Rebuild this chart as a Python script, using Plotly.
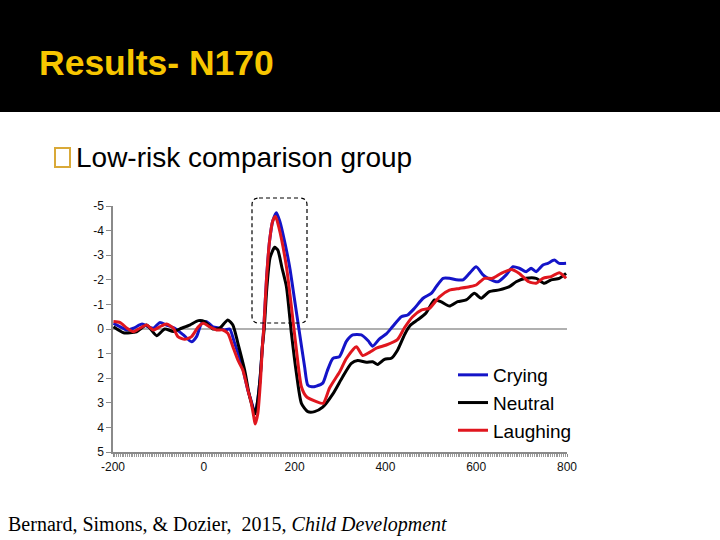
import plotly.graph_objects as go

# ---- data (time in ms, amplitude in microvolts) ----
CRY_T = [-199, -184, -169, -155, -136, -122, -111, -97, -82, -64, -45, -27, -16, -5, 6, 20, 35, 46, 57,
         68, 83, 97, 104, 113, 118, 124, 129, 132, 138, 145, 152, 160, 167, 174, 189, 200, 211, 222, 229,
         238, 248, 262, 272, 284, 299, 314, 328, 347, 362, 372, 387, 402, 416, 435, 449, 464, 483, 501,
         512, 527, 541, 556, 571, 585, 600, 615, 626, 648, 666, 681, 695, 710, 721, 732, 747, 758, 772,
         783, 798]
CRY_V = [-0.23, -0.09, 0.04, -0.03, -0.2, -0.09, -0.03, -0.26, -0.16, -0.03, 0.24, 0.52, 0.31, -0.23,
         -0.3, -0.09, -0.03, 0.04, 0.0, 0.58, 1.4, 2.48, 2.9, 3.43, 3.0, 2.0, 0.72, 0.0, -2.0, -3.6, -4.4,
         -4.73, -4.4, -3.89, -2.53, -1.18, 0.18, 1.53, 2.28, 2.35, 2.32, 2.2, 1.7, 1.2, 1.12, 0.5, 0.24,
         0.24, 0.48, 0.7, 0.4, 0.2, -0.1, -0.5, -0.57, -0.84, -1.25, -1.45, -1.72, -2.06, -2.06, -2.0,
         -2.0, -2.26, -2.53, -2.2, -2.06, -1.92, -2.2, -2.53, -2.47, -2.33, -2.47, -2.33, -2.6, -2.67,
         -2.8, -2.67, -2.67]

NEU_T = [-199, -177, -148, -126, -104, -86, -67, -49, -31, -12, 2, 20, 35, 53, 64, 75, 90, 101, 113, 118,
         124, 129, 133, 139, 146, 156, 163, 172, 182, 193, 204, 215, 229, 244, 262, 284, 306, 325, 339,
         358, 372, 383, 398, 413, 427, 443, 455, 471, 489, 508, 522, 541, 559, 578, 596, 611, 629, 651,
         673, 688, 710, 732, 750, 765, 783, 798]
NEU_V = [-0.09, 0.15, 0.11, -0.16, 0.27, 0.0, 0.1, -0.03, -0.16, -0.34, -0.3, 0.0, -0.04, -0.37, -0.16,
         0.57, 1.67, 2.75, 3.45, 3.0, 2.0, 0.72, 0.0, -1.7, -2.9, -3.32, -3.21, -2.5, -1.72, 0.18, 1.8,
         3.02, 3.36, 3.36, 3.18, 2.65, 1.94, 1.4, 1.28, 1.35, 1.33, 1.44, 1.23, 1.19, 0.85, 0.2, -0.15,
         -0.37, -0.64, -1.18, -1.11, -0.93, -1.11, -1.18, -1.45, -1.25, -1.52, -1.59, -1.72, -1.92, -2.06,
         -2.06, -1.86, -2.0, -2.06, -2.26]

LAU_T = [-199, -184, -169, -155, -141, -126, -111, -97, -82, -67, -57, -42, -27, -12, -1, 13, 28, 42, 53,
         64, 75, 86, 97, 104, 110, 113, 119, 125, 129, 132, 138, 145, 152, 158, 165, 182, 193, 204, 215,
         226, 248, 263, 277, 299, 314, 336, 350, 365, 380, 402, 427, 442, 460, 479, 497, 519, 541, 563,
         585, 600, 618, 636, 655, 677, 695, 716, 732, 747, 765, 783, 798]
LAU_V = [-0.3, -0.26, -0.03, 0.11, -0.03, -0.16, 0.04, -0.09, -0.2, -0.03, 0.31, 0.42, 0.31, -0.09,
         -0.23, -0.09, 0.04, 0.04, 0.18, 0.72, 1.26, 1.67, 2.48, 2.95, 3.56, 3.86, 3.43, 2.07, 0.72, 0.0,
         -2.0, -3.6, -4.4, -4.57, -4.16, -2.53, -0.9, 0.85, 2.35, 2.75, 2.95, 3.02, 2.4, 1.75, 1.2, 0.72,
         1.08, 0.95, 0.78, 0.65, 0.42, -0.05, -0.5, -0.77, -0.84, -1.31, -1.58, -1.65, -1.72, -1.79,
         -2.06, -2.06, -2.26, -2.42, -2.26, -1.92, -1.86, -2.06, -2.13, -2.29, -2.06]

SERIES_NAMES = ["Crying", "Neutral", "Laughing"]
X_TICKS = [-200, 0, 200, 400, 600, 800]
X_TICK_LABELS = ["-200", "0", "200", "400", "600", "800"]
Y_TICKS = [-5, -4, -3, -2, -1, 0, 1, 2, 3, 4, 5]
Y_TICK_LABELS = ["-5", "-4", "-3", "-2", "-1", "0", "1", "2", "3", "4", "5"]

COLORS = ["#1414C8", "#000000", "#E0161E"]

# pixel helpers for decorations (plot area: x 113..567, y 206..452)
L, R, T, B = 113, 567, 206, 452
def px(x):
    return (x - L) / (R - L)
def py(y):
    return (B - y) / (B - T)

fig = go.Figure()
for name, t, v, c in zip(SERIES_NAMES, [CRY_T, NEU_T, LAU_T], [CRY_V, NEU_V, LAU_V], COLORS):
    fig.add_trace(go.Scatter(x=t, y=v, mode="lines", name=name,
                             line=dict(color=c, width=3, shape="spline", smoothing=0.6)))

axis_font = dict(family="Liberation Sans, Arial, sans-serif", size=12, color="#111111")
fig.update_xaxes(range=[-200, 800], tickvals=X_TICKS, ticktext=X_TICK_LABELS,
                 showline=True, linecolor="#8a8a8a", linewidth=1.5,
                 ticks="outside", ticklen=3, tickcolor="#8a8a8a",
                 minor=dict(dtick=4, ticks="outside", ticklen=3, tickcolor="#9a9a9a"),
                 showgrid=False, zeroline=False, tickfont=axis_font)
fig.update_yaxes(range=[5, -5], tickvals=Y_TICKS, ticktext=Y_TICK_LABELS,
                 showline=True, linecolor="#8a8a8a", linewidth=1.5,
                 ticks="outside", ticklen=5, tickcolor="#8a8a8a",
                 showgrid=False, zeroline=True, zerolinecolor="#b0b0b0", zerolinewidth=1.5,
                 tickfont=axis_font)

shapes = [
    # black header band
    dict(type="rect", xref="paper", yref="paper", x0=px(0), x1=px(720), y0=py(112), y1=py(0),
         fillcolor="black", line=dict(width=0), layer="above"),
    # bullet box
    dict(type="rect", xref="paper", yref="paper", x0=px(55), x1=px(70), y0=py(167), y1=py(148),
         fillcolor="rgba(0,0,0,0)", line=dict(color="#D9A938", width=2)),
]
# dashed rounded rectangle around the peak
x0, x1, y0, y1 = 252, 307, 198, 323
r = 7
path = (f"M {px(x0 + r)},{py(y0)} L {px(x1 - r)},{py(y0)} Q {px(x1)},{py(y0)} {px(x1)},{py(y0 + r)} "
        f"L {px(x1)},{py(y1 - r)} Q {px(x1)},{py(y1)} {px(x1 - r)},{py(y1)} "
        f"L {px(x0 + r)},{py(y1)} Q {px(x0)},{py(y1)} {px(x0)},{py(y1 - r)} "
        f"L {px(x0)},{py(y0 + r)} Q {px(x0)},{py(y0)} {px(x0 + r)},{py(y0)} Z")
shapes.append(dict(type="path", xref="paper", yref="paper", path=path,
                   line=dict(color="black", width=1.2, dash="4px,3px")))

annotations = [
    dict(text="<b>Results- N170</b>", xref="paper", yref="paper", x=px(37), y=py(63),
         xanchor="left", yanchor="middle", showarrow=False,
         font=dict(family="Liberation Sans, Arial, sans-serif", size=35.5, color="#F7C600")),
    dict(text="Low-risk comparison group", xref="paper", yref="paper", x=px(74), y=py(157),
         xanchor="left", yanchor="middle", showarrow=False,
         font=dict(family="Liberation Sans, Arial, sans-serif", size=28, color="black")),
    dict(text="Bernard, Simons, &amp; Dozier,&nbsp; 2015, <i>Child Development</i>", xref="paper",
         yref="paper", x=px(6), y=py(524), xanchor="left", yanchor="middle", showarrow=False,
         font=dict(family="Liberation Serif, Times New Roman, serif", size=20, color="black")),
]

fig.update_layout(
    width=720, height=540,
    margin=dict(l=L, r=720 - R, t=T, b=540 - B),
    paper_bgcolor="white", plot_bgcolor="white",
    shapes=shapes, annotations=annotations,
    showlegend=True,
    legend=dict(x=px(453), y=py(356), xanchor="left", yanchor="top",
                bgcolor="rgba(0,0,0,0)", itemwidth=30, tracegroupgap=0,
                font=dict(family="Liberation Sans, Arial, sans-serif", size=19, color="black")),
)

fig.write_html("out.html", config={"displayModeBar": False},
               post_script="document.body.style.margin='0';")
